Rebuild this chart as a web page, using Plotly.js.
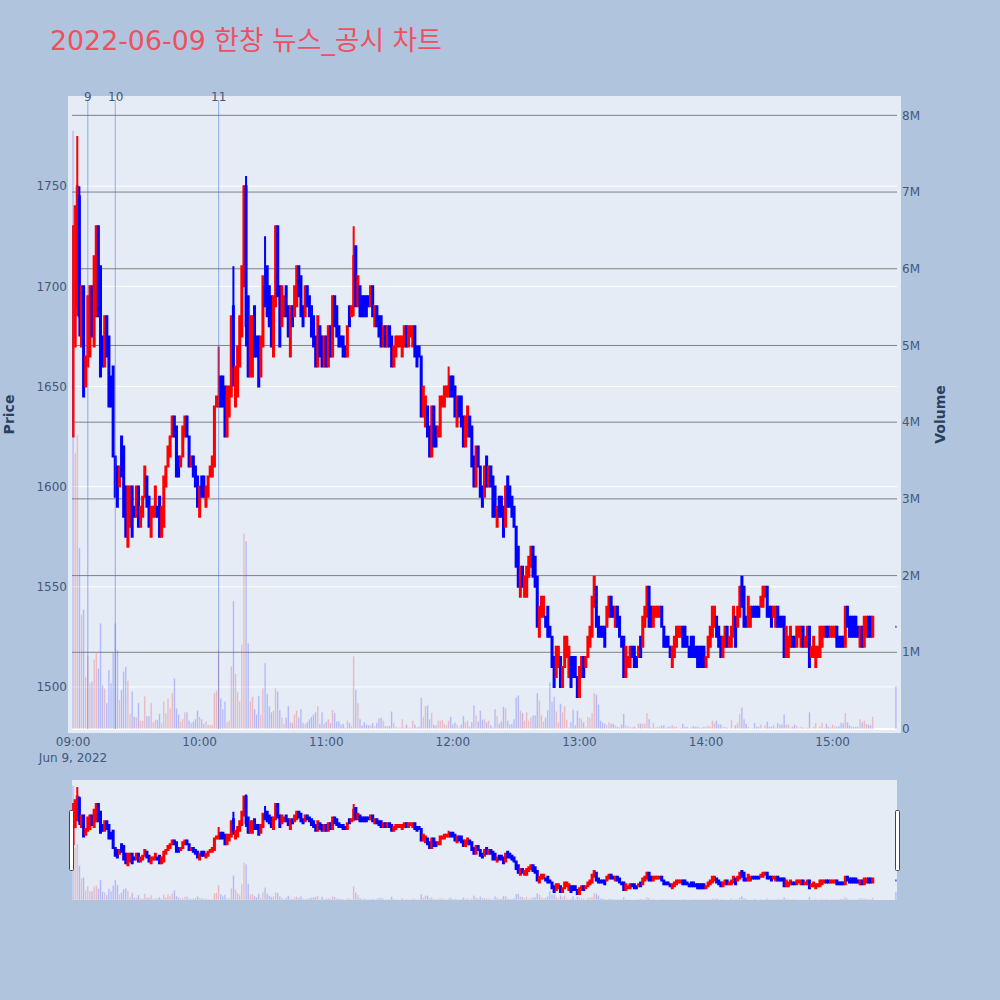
<!DOCTYPE html>
<html>
<head>
<meta charset="utf-8">
<script src="https://cdn.plot.ly/plotly-3.0.1.min.js"></script>
<style>
html,body{margin:0;padding:0;background:#B0C4DE}
.js-plotly-plot .plotly .crisp, svg.main-svg *{shape-rendering:auto !important}
</style>
</head>
<body>
<div id="chart" style="width:1000px;height:1000px"></div>
<script>
const highs = [
1730,1740,1775,1750,1700,1700,1665,1695,1700,1700,
1715,1730,1730,1710,1675,1685,1685,1675,1655,1660,
1615,1610,1610,1625,1620,1600,1600,1600,1600,1590,
1600,1600,1590,1595,1610,1605,1595,1590,1590,1600,
1590,1595,1590,1605,1610,1620,1625,1635,1635,1630,
1615,1615,1630,1635,1635,1625,1615,1615,1610,1605,
1600,1605,1605,1600,1605,1610,1615,1640,1645,1670,
1655,1655,1650,1650,1650,1685,1710,1660,1670,1685,
1710,1750,1755,1695,1685,1685,1690,1675,1675,1675,
1705,1725,1710,1700,1695,1695,1730,1730,1700,1700,
1695,1700,1690,1690,1690,1700,1710,1710,1705,1690,
1700,1700,1695,1690,1685,1675,1685,1680,1675,1675,
1675,1680,1680,1695,1695,1690,1680,1675,1675,1670,
1680,1690,1690,1730,1720,1705,1700,1695,1695,1695,
1695,1700,1700,1690,1690,1685,1685,1680,1680,1680,
1680,1675,1670,1675,1675,1675,1675,1680,1680,1680,
1680,1680,1680,1670,1670,1665,1650,1645,1640,1630,
1640,1640,1630,1630,1645,1645,1650,1650,1660,1655,
1655,1650,1645,1645,1645,1635,1635,1640,1635,1630,
1615,1620,1620,1610,1600,1610,1615,1610,1610,1605,
1600,1590,1595,1595,1590,1600,1605,1600,1595,1590,
1580,1570,1560,1560,1555,1560,1565,1570,1570,1565,
1555,1540,1545,1545,1535,1540,1530,1525,1515,1520,
1520,1515,1510,1525,1525,1520,1515,1515,1515,1505,
1510,1515,1515,1515,1525,1530,1545,1555,1550,1535,
1530,1530,1530,1540,1545,1545,1540,1540,1540,1535,
1525,1525,1520,1515,1520,1520,1520,1515,1520,1525,
1535,1540,1550,1550,1540,1540,1540,1540,1540,1540,
1530,1525,1525,1520,1520,1525,1530,1530,1530,1530,
1530,1525,1520,1525,1525,1520,1520,1520,1520,1520,
1515,1525,1530,1540,1540,1535,1530,1525,1525,1530,
1530,1525,1530,1540,1535,1540,1550,1555,1550,1535,
1545,1540,1540,1540,1540,1540,1545,1550,1550,1550,
1540,1540,1540,1540,1540,1535,1535,1535,1530,1525,
1530,1525,1525,1530,1530,1530,1530,1525,1530,1530,
1520,1525,1520,1520,1530,1530,1530,1530,1530,1530,
1530,1530,1530,1525,1525,1525,1540,1540,1535,1535,
1535,1535,1530,1530,1530,1535,1535,1535,1535,1535];
const lows = [
1625,1670,1685,1675,1670,1645,1650,1660,1665,1675,
1670,1685,1685,1655,1660,1660,1665,1640,1640,1615,
1595,1590,1600,1605,1585,1575,1570,1580,1575,1585,
1585,1580,1580,1585,1595,1590,1580,1575,1585,1585,
1585,1575,1575,1580,1600,1610,1615,1625,1625,1605,
1605,1610,1615,1625,1625,1610,1610,1605,1600,1590,
1585,1595,1595,1590,1595,1605,1605,1610,1640,1640,
1640,1640,1625,1625,1635,1645,1650,1640,1645,1660,
1675,1700,1670,1655,1655,1655,1665,1665,1650,1655,
1670,1690,1685,1680,1670,1665,1690,1695,1670,1680,
1685,1685,1675,1665,1680,1685,1690,1695,1685,1680,
1685,1690,1685,1675,1670,1660,1660,1665,1660,1660,
1660,1660,1665,1665,1680,1675,1670,1670,1665,1665,
1665,1680,1685,1685,1690,1690,1685,1685,1685,1685,
1690,1690,1685,1680,1680,1675,1670,1670,1670,1670,
1670,1660,1660,1665,1670,1670,1665,1670,1670,1670,
1675,1670,1665,1660,1665,1635,1635,1630,1625,1615,
1615,1620,1620,1625,1625,1640,1640,1645,1645,1645,
1645,1635,1630,1635,1630,1620,1620,1625,1625,1610,
1600,1600,1610,1595,1590,1595,1600,1600,1600,1585,
1585,1580,1585,1585,1575,1580,1590,1590,1585,1580,
1560,1550,1545,1550,1545,1545,1555,1560,1555,1550,
1530,1525,1535,1535,1530,1525,1525,1510,1500,1505,
1510,1500,1500,1510,1515,1505,1500,1505,1505,1495,
1495,1505,1505,1510,1515,1520,1525,1540,1530,1525,
1525,1525,1520,1530,1535,1535,1535,1530,1530,1525,
1520,1505,1505,1510,1510,1515,1510,1510,1515,1515,
1520,1530,1535,1530,1530,1530,1535,1535,1535,1530,
1520,1520,1520,1515,1510,1515,1520,1525,1525,1520,
1520,1520,1515,1515,1515,1515,1510,1510,1510,1510,
1510,1515,1520,1525,1530,1525,1520,1515,1515,1520,
1520,1520,1520,1525,1520,1530,1535,1540,1530,1530,
1530,1530,1535,1535,1535,1535,1540,1540,1545,1535,
1535,1530,1535,1530,1530,1530,1530,1515,1515,1515,
1520,1520,1520,1520,1525,1520,1520,1520,1520,1510,
1515,1515,1510,1515,1515,1520,1525,1525,1525,1525,
1525,1525,1520,1520,1520,1520,1520,1530,1525,1525,
1525,1525,1525,1520,1520,1520,1525,1525,1525,1525];
// 1 = rising minute (red), 0 = falling minute (blue)
const rising = [
1,1,1,0,1,0,1,1,1,0, 1,1,0,0,0,1,0,0,0,0,
0,0,1,0,0,0,1,1,0,0, 1,0,1,1,1,0,0,1,1,1,
0,0,1,1,1,1,1,1,0,0, 0,1,1,1,0,0,1,0,0,0,
1,0,0,1,1,1,1,1,1,1, 0,0,0,1,1,1,0,1,1,1,
1,1,0,0,1,1,0,0,0,1, 1,0,0,0,0,1,1,0,0,1,
1,0,0,1,0,1,1,0,0,0, 1,0,0,0,0,0,1,0,0,1,
0,1,0,1,0,0,0,0,0,0, 1,0,1,1,0,1,0,0,0,0,
0,1,0,1,0,0,0,1,0,1, 0,0,1,1,1,1,1,1,0,1,
1,1,0,0,0,0,1,1,0,0, 1,0,0,1,1,1,1,1,1,0,
0,0,1,0,0,0,1,1,0,0, 0,1,0,0,0,1,0,1,0,0,
0,1,0,0,0,1,0,0,0,0, 0,0,1,0,1,1,1,1,0,0,
0,1,1,1,0,0,0,0,0,1, 1,0,1,1,1,1,0,0,0,0,
1,1,0,1,1,1,1,1,0,0, 0,0,0,1,1,0,0,1,0,0,
0,0,1,1,1,0,0,0,1,0, 1,1,1,0,0,1,1,1,1,0,
0,0,0,0,1,1,1,1,1,0, 0,0,0,0,0,0,0,0,0,0,
1,1,1,1,1,0,0,0,1,1, 0,1,1,1,0,1,1,0,0,0,
1,1,0,0,0,0,1,1,1,0, 0,0,1,1,0,0,0,0,1,1,
1,0,0,1,1,1,0,1,1,0, 1,1,1,1,1,1,1,0,0,1,
1,1,0,0,0,0,1,0,0,0, 0,0,0,1,0,1,1,0,0,1];
// candles whose body is shorter than their high-low span
const wickIndex = [2,3,69,76,82,91,133,178];
const wickOpen  = [1690,1745,1640,1690,1750,1700,1690,1645];
const wickClose = [1750,1685,1645,1660,1680,1690,1715,1650];
const volumes = [
7.8,3.6,3.83,2.36,1.49,1.56,.68,.96,.6,.62,
.91,1.0,.79,1.38,.57,.53,.34,.77,.6,.99,
1.38,1.03,.38,.51,.75,.81,.63,.2,.49,.16,
.15,.34,.11,.11,.43,.17,.17,.34,.09,.12,
.12,.2,.08,.36,.21,.4,.27,.47,.66,.27,
.19,.1,.13,.22,.22,.11,.08,.1,.13,.24,
.16,.13,.07,.1,.06,.05,.05,.47,.5,1.03,
.4,.26,.36,.09,.11,.82,1.67,.72,.48,.36,
1.1,2.55,2.45,1.12,.36,.42,.26,.19,.43,.19,
.53,.86,.46,.3,.22,.24,.53,.49,.25,.15,
.07,.15,.3,.09,.08,.19,.24,.15,.26,.08,
.07,.09,.13,.16,.19,.22,.3,.07,.22,.07,
.1,.13,.08,.25,.21,.1,.1,.06,.07,.02,
.11,.08,.04,.95,.51,.34,.13,.05,.09,.06,
.05,.05,.08,.04,.08,.14,.15,.11,.04,.04,
.04,.23,.08,.03,.02,.02,.13,.02,.06,.02,
.02,.11,.06,.02,.03,.41,.16,.3,.31,.13,
.21,.06,.05,.11,.11,.12,.07,.05,.11,.16,
.06,.08,.06,.02,.06,.17,.09,.11,.03,.09,
.31,.18,.1,.24,.12,.13,.09,.11,.05,.02,
.26,.17,.07,.1,.29,.27,.11,.06,.07,.13,
.41,.44,.24,.21,.11,.22,.11,.15,.18,.18,
.47,.37,.18,.1,.15,.25,.61,.36,.42,.23,
.09,.33,.22,.3,.12,.02,.09,.25,.05,.24,
.15,.13,.09,.03,.16,.15,.21,.47,.45,.32,
.11,.09,.07,.05,.09,.07,.07,.05,.03,.02,
.06,.2,.05,.04,.03,.02,.03,.01,.07,.07,
.07,.07,.21,.13,.02,.08,.02,.03,.03,.05,
.05,.02,.03,.03,.05,.03,.03,.01,.02,.07,
.03,.03,.01,.02,.04,.03,.03,.02,.02,.03,
.03,.05,.03,.11,.08,.11,.06,.06,.03,.03,
.02,.01,.12,.01,.05,.08,.2,.28,.13,.07,
.03,.01,.01,.08,.03,.03,.06,.01,.05,.1,
.03,.03,.05,.02,.08,.06,.06,.19,.06,.06,
.02,.03,.06,.04,.02,.03,.02,.01,.02,.22,
.01,.03,.08,.01,.04,.08,.02,.07,.03,.02,
.06,.04,.03,.04,.08,.08,.21,.09,.05,.03,
.03,.03,.03,.13,.09,.11,.07,.06,.05,.16];
// isolated last print of the day, 15:30
const lastPrice = 1530;
const lastVolume = 0.56;
const newsTimes = ['2022-06-09 09:07','2022-06-09 09:20','2022-06-09 10:09'];
const newsLabels = ['9','10','11'];
const titleText = '2022-06-09 한창 뉴스_공시 차트';

const pad2 = n => String(n).padStart(2,'0');
const stamp = m => '2022-06-09 ' + pad2(9+Math.floor(m/60)) + ':' + pad2(m%60);
const times = highs.map((_,i)=>stamp(i)).concat(stamp(390));
const opens = highs.map((h,i)=> rising[i] ? lows[i] : h);
const closes = highs.map((h,i)=> rising[i] ? h : lows[i]);
wickIndex.forEach((k,j)=>{opens[k]=wickOpen[j]; closes[k]=wickClose[j];});
opens.push(lastPrice); closes.push(lastPrice);
const H = highs.concat(lastPrice), L = lows.concat(lastPrice);
const vols = volumes.concat(lastVolume).map(v=>v*1e6);
const barColors = vols.map((_,i)=> (i>0 && closes[i]>opens[i]) ? 'red' : 'blue');

const fontFam = '"DejaVu Sans","Noto Sans CJK KR",sans-serif';
const ink = '#2a3f5f';
const tickInk = '#44587a';
const traces = [
 {type:'candlestick', x:times, open:opens, high:H, low:L, close:closes, yaxis:'y',
  increasing:{line:{color:'red'},fillcolor:'red'}, decreasing:{line:{color:'blue'},fillcolor:'blue'}, showlegend:false},
 {type:'bar', x:times, y:vols, yaxis:'y2', opacity:0.25, showlegend:false,
  marker:{color:barColors, line:{color:'#E5ECF6',width:0.5}}}
];
const layout = {
 width:1000, height:1000,
 paper_bgcolor:'#B0C4DE', plot_bgcolor:'#E5ECF6',
 font:{family:fontFam,size:12,color:tickInk},
 margin:{l:72,r:103,t:100,b:100,pad:4},
 title:{text:titleText,x:0.05,xanchor:'left',y:0.959,yanchor:'middle',font:{size:26.8,color:'#EF5060',family:fontFam}},
 showlegend:false,
 xaxis:{type:'date',range:['2022-06-09 08:59:30','2022-06-09 15:30:30'],showgrid:false,zeroline:false,
   tickfont:{size:12,color:tickInk},rangeslider:{visible:true,thickness:0.15}},
 yaxis:{title:{text:'<b>Price</b>',font:{size:14,color:ink},standoff:22},range:[1479,1793],dtick:50,
   gridcolor:'white',zeroline:false,side:'left'},
 yaxis2:{title:{text:'<b>Volume</b>',font:{size:14,color:ink},standoff:20},range:[0,8.2e6],dtick:1e6,
   overlaying:'y',side:'right',gridcolor:'gray',zeroline:true,zerolinecolor:'white',zerolinewidth:2},
 shapes:newsTimes.map(t=>({type:'line',xref:'x',yref:'paper',x0:t,x1:t,y0:0,y1:1,
   line:{color:'royalblue',width:1},opacity:0.5})),
 annotations:newsTimes.map((t,i)=>({xref:'x',yref:'paper',x:t,y:1,yanchor:'middle',yshift:3,showarrow:false,
   text:newsLabels[i],font:{size:12,color:tickInk}}))
};
Plotly.newPlot('chart',traces,layout,{displayModeBar:false});
</script>
</body>
</html>
